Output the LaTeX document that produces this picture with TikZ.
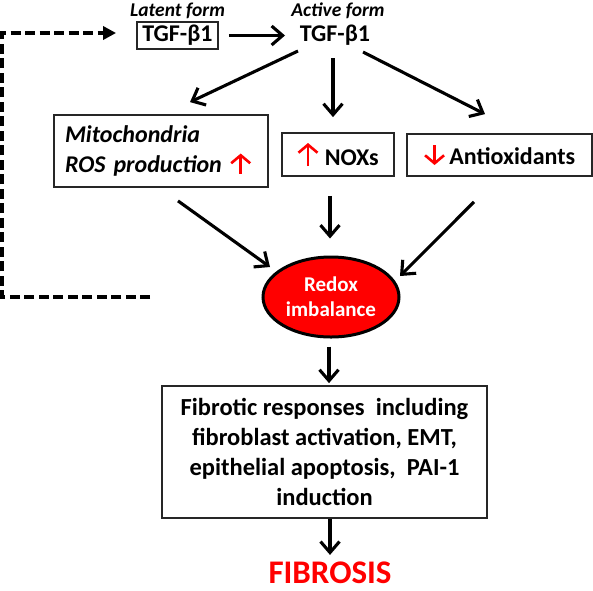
\documentclass[tikz,border=0pt]{standalone}
\usepackage{fontspec}
\setmainfont{Carlito}
\usetikzlibrary{arrows.meta,calc,shapes.geometric}
\definecolor{redA}{RGB}{255,0,0}
\newcommand{\rup}[1]{\tikz[x=1pt,y=1pt,baseline=0pt]\draw[redA,line width=2.6pt,-{Straight Barb[length=8pt,width=19pt]}] (0,-1) -- (0,#1);}
\newcommand{\rdown}[1]{\tikz[x=1pt,y=1pt,baseline=0pt]\draw[redA,line width=2.6pt,-{Straight Barb[length=8pt,width=19pt]}] (0,#1) -- (0,-1);}
\begin{document}
\begin{tikzpicture}[x=1pt,y=-1pt,
  box/.style={draw=black!85, line width=1.8pt, inner sep=0pt},
  arr/.style={line width=3.1pt, -{Straight Barb[length=11pt,width=19pt]}},
  lbl/.style={inner sep=0pt, font=\bfseries\itshape\fontsize{19.5}{22}\selectfont},
  big/.style={font=\bfseries\fontsize{24}{28}\selectfont}]
\useasboundingbox (0,0) rectangle (593,590);

\node[lbl] (latlbl) at (177.5,11) {Latent form};
\node[lbl] (actlbl) at (338,11) {Active form};
\node[box, big, minimum width=81pt, minimum height=27pt] (latent) at (177.5,35.5) {TGF-β1};
\node[big, inner sep=0pt] (active) at (335,35.5) {TGF-β1};

\node[box, minimum width=214pt, minimum height=72pt, text width=192pt, align=left,
  font=\bfseries\itshape\fontsize{24}{30}\selectfont] (mito) at (161,151)
  {Mitochondria\\ROS production \rup{19}};
\node[box, big, minimum width=112pt, minimum height=43pt] (nox) at (338,154.5) {\rup{22}\hspace{6pt}NOXs};
\node[box, big, minimum width=185pt, minimum height=42pt] (antiox) at (499.5,155) {\rdown{19}\hspace{4pt}Antioxidants};

\node[ellipse, draw=black, line width=3pt, fill=redA, minimum width=136pt, minimum height=80pt,
  inner sep=0pt, text=white, align=center, font=\bfseries\fontsize{21}{25}\selectfont] (redox) at (331,297) {Redox\\imbalance};

\node[box, minimum width=325pt, minimum height=132pt, align=center,
  font=\bfseries\fontsize{24.5}{30}\selectfont] (fib) at (324.5,452)
  {Fibrotic responses\ \ including\\fibroblast activation, EMT,\\epithelial apoptosis,\ \ PAI-1\\induction};

\node[anchor=base, inner sep=0pt, text=redA, font=\bfseries\fontsize{33}{36}\selectfont] (fibrosis) at (330,583) {FIBROSIS};

% connectors
\draw[arr] ($(latent.east)+(10,0)$) -- ($(active.center)+(-50,0)$);
\draw[arr] ($(active.center)+(-37,15.5)$) -- ($(mito.north)+(29,-12)$);
\draw[arr] ($(active.center)+(-2,22.5)$) -- ($(nox.north)+(-5,-15)$);
\draw[arr] ($(active.center)+(28,16.5)$) -- ($(antiox.north)+(-14.5,-19)$);
\draw[arr] ($(mito.south)+(17,13)$) -- ($(redox.center)+(-61,-30)$);
\draw[arr] ($(nox.south)+(-8,19)$) -- ($(redox.north)+(-1,-17)$);
\draw[arr] ($(antiox.south)+(-25.5,25)$) -- ($(redox.center)+(69,-21)$);
\draw[arr] ($(redox.south)+(-2,8)$) -- ($(fib.north)+(4.5,-2)$);
\draw[arr] ($(fib.south)+(5.5,0)$) -- ($(fib.south)+(5.5,36)$);

\coordinate (dstart) at (150,297);
\draw[line width=3.6pt, dash pattern=on 10pt off 4.5pt, -{Triangle[length=13pt,width=13pt]}]
  (dstart) -- (2,297) -- (2,33) -- ($(latent.west)+(-20,-2.5)$);
\end{tikzpicture}
\end{document}
